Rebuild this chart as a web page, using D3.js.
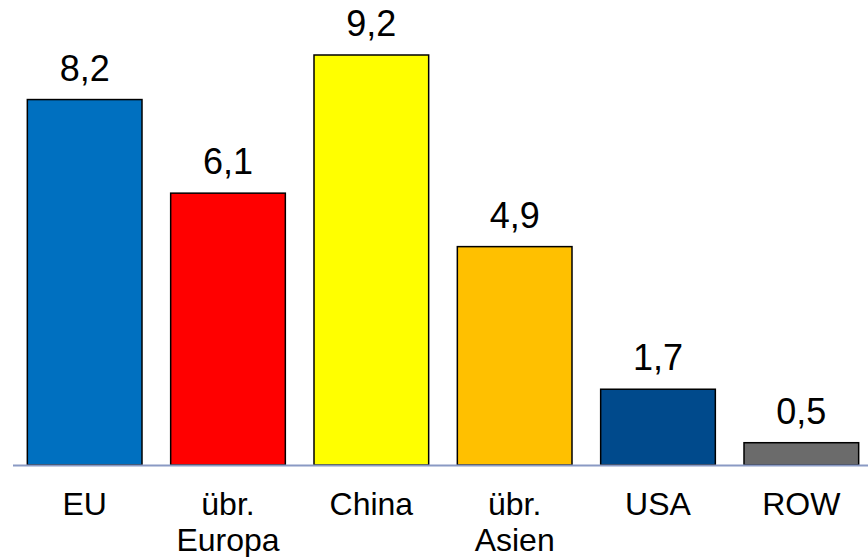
<!DOCTYPE html>
<html>
<head>
<meta charset="utf-8">
<script src="https://cdn.jsdelivr.net/npm/d3@7"></script>
<style>
  html, body { margin: 0; padding: 0; background: #fff; }
  svg { display: block; font-family: "Liberation Sans", Arial, sans-serif; }
</style>
</head>
<body>
<svg id="chart" width="868" height="557"></svg>
<script>
const categories = [["EU"], ["übr.", "Europa"], ["China"], ["übr.", "Asien"], ["USA"], ["ROW"]];
const values = [8.2, 6.1, 9.2, 4.9, 1.7, 0.5];
const valueLabels = ["8,2", "6,1", "9,2", "4,9", "1,7", "0,5"];
const colors = ["#0070C0", "#FF0000", "#FFFF00", "#FFC000", "#004A8C", "#6B6B6B"];

const svg = d3.select("#chart");
const keys = categories.map((c, i) => i);

const x = d3.scaleBand().domain(keys).range([13, 873]).paddingInner(0.2).paddingOuter(0.1);
const y = d3.scaleLinear().domain([0, 9.2]).range([465, 55]);

svg.selectAll("rect.bar").data(values).join("rect")
  .attr("class", "bar")
  .attr("x", (d, i) => x(i))
  .attr("y", d => y(d))
  .attr("width", x.bandwidth())
  .attr("height", d => y(0) - y(d))
  .attr("fill", (d, i) => colors[i])
  .attr("stroke", "#000")
  .attr("stroke-width", 1.5);

svg.append("line")
  .attr("x1", 13).attr("x2", 868)
  .attr("y1", y(0) + 0.5).attr("y2", y(0) + 0.5)
  .attr("stroke", "#8A9AC4").attr("stroke-width", 2);

svg.selectAll("text.val").data(values).join("text")
  .attr("class", "val")
  .attr("x", (d, i) => x(i) + x.bandwidth() / 2)
  .attr("y", d => y(d) - 19)
  .attr("text-anchor", "middle")
  .attr("font-size", 36)
  .attr("fill", "#000")
  .text((d, i) => valueLabels[i]);

const cat = svg.selectAll("text.cat").data(categories).join("text")
  .attr("class", "cat")
  .attr("text-anchor", "middle")
  .attr("font-size", 32)
  .attr("fill", "#000");
cat.each(function(lines, i) {
  const t = d3.select(this);
  lines.forEach((l, j) => {
    t.append("tspan")
      .attr("x", x(i) + x.bandwidth() / 2)
      .attr("y", 515 + j * 36)
      .text(l);
  });
});
</script>
</body>
</html>
